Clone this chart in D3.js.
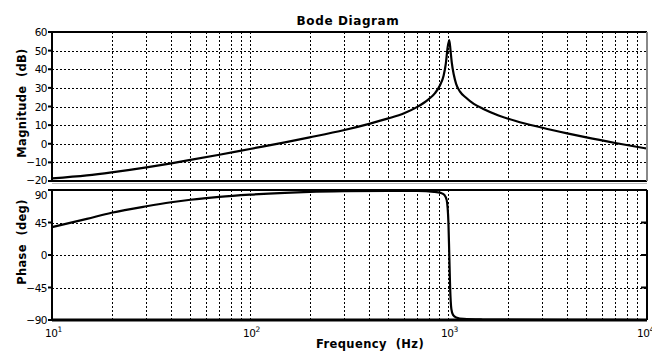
<!DOCTYPE html>
<html>
<head>
<meta charset="utf-8">
<script src="https://cdn.jsdelivr.net/npm/d3@7"></script>
<style>
  body { margin: 0; background: #fff; }
  text { font-family: "DejaVu Sans", sans-serif; fill: #000; }
  .grid { stroke: #000; stroke-width: 1; stroke-dasharray: 2,2; shape-rendering: crispEdges; }
</style>
</head>
<body>
<svg id="chartSVG" width="652" height="351"></svg>
<script>
// values
var magFreq = [10, 15, 20, 30, 40, 50, 70, 100, 150, 200, 300, 400, 500, 600, 700, 800, 860, 910, 950, 975, 995, 1015,
  1030, 1045, 1070, 1100, 1150, 1230, 1350, 1500, 1800, 2200, 3000, 4000, 5000, 7000, 10000];
var magDb = [-18.6, -17.0, -15.4, -12.7, -10.5, -8.7, -5.9, -2.8, 0.7, 3.4, 7.4, 10.7, 13.6, 16.4, 19.8, 24.0, 27.2, 31.3, 36.5, 43.0, 51.5, 55.7,
  50.0, 43.5, 37.0, 32.0, 28.0, 24.8, 21.4, 18.8, 15.2, 12.2, 8.6, 5.6, 3.4, 0.4, -2.5];

var phFreq = [10, 15, 20, 30, 40, 50, 70, 100, 150, 200, 300, 500, 700, 850, 920, 960, 985, 1005, 1015, 1025, 1040,
  1060, 1100, 1200, 1500, 2000, 5000, 10000];
var phDeg = [38.5, 50, 58.5, 67.5, 73, 76.5, 80.5, 83.5, 86, 87.3, 88.3, 88.8, 88.6, 87.5, 86, 83, 76, 45, 0, -45, -75,
  -83, -86.5, -88.5, -89.3, -89.6, -89.8, -90];

var magTicks = [-20, -10, 0, 10, 20, 30, 40, 50, 60];
var phTicks = [-90, -45, 0, 45, 90];
var decades = [1, 2, 3, 4];

var svg = d3.select("#chartSVG");
var left = 52, right = 646;

var x = d3.scaleLog().domain([10, 10000]).range([left, right]);
var yMag = d3.scaleLinear().domain([-20, 60]).range([181, 32]);
var yPh = d3.scaleLinear().domain([-90, 90]).range([320, 190]);

// minor + major frequency grid positions
var gridFreq = [];
for (var d = 1; d < 4; d++) {
  for (var k = 1; k < 10; k++) gridFreq.push(k * Math.pow(10, d));
}
gridFreq = gridFreq.filter(function(f) { return f > 10; });

function drawPanel(y, ticks, freq, vals, rightGray, labelShift) {
  var g = svg.append("g");
  var y0 = y.range()[0], y1 = y.range()[1];

  g.selectAll(".vgrid")
      .data(gridFreq)
      .enter().append("line")
      .attr("class", "grid")
      .attr("x1", function(f) { return Math.round(x(f)) + 0.5; })
      .attr("x2", function(f) { return Math.round(x(f)) + 0.5; })
      .attr("y1", y1)
      .attr("y2", y0);

  g.selectAll(".hgrid")
      .data(ticks.slice(1, -1))
      .enter().append("line")
      .attr("class", "grid")
      .attr("x1", left)
      .attr("x2", right)
      .attr("y1", function(v) { return Math.round(y(v)) + 0.5; })
      .attr("y2", function(v) { return Math.round(y(v)) + 0.5; });

  // left ticks + labels
  g.selectAll(".tk")
      .data(ticks)
      .enter().append("line")
      .attr("x1", left - 4)
      .attr("x2", left)
      .attr("y1", function(v) { return y(v); })
      .attr("y2", function(v) { return y(v); })
      .attr("stroke", "#000")
      .attr("stroke-width", 2);

  g.selectAll(".lbl")
      .data(ticks)
      .enter().append("text")
      .attr("x", left - 5)
      .attr("y", function(v, i) { return y(v) + 4 + (labelShift[i] || 0); })
      .attr("text-anchor", "end")
      .style("font-size", "10.5px")
      .style("letter-spacing", "-0.5px")
      .text(function(v) { return v < 0 ? "\u2212" + Math.abs(v) : v; });

  var line = d3.line()
      .curve(d3.curveMonotoneX)
      .x(function(d) { return x(d[0]); })
      .y(function(d) { return y(d[1]); });

  g.append("path")
      .attr("d", line(d3.zip(freq, vals)))
      .attr("fill", "none")
      .attr("stroke", "#000")
      .attr("stroke-width", 2.2);

  // frame
  g.append("line").attr("x1", left).attr("x2", right + 1).attr("y1", y1).attr("y2", y1)
      .attr("stroke", "#000").attr("stroke-width", 2);
  g.append("line").attr("x1", left).attr("x2", right + 1).attr("y1", y0).attr("y2", y0)
      .attr("stroke", "#000").attr("stroke-width", rightGray ? 2 : 3);
  g.append("line").attr("x1", left).attr("x2", left).attr("y1", y1 - 1).attr("y2", y0 + 1)
      .attr("stroke", "#000").attr("stroke-width", 2);
  g.append("line").attr("x1", right + 1).attr("x2", right + 1).attr("y1", y1).attr("y2", y0)
      .attr("stroke", rightGray ? "#888" : "#000").attr("stroke-width", 2);

  if (!rightGray) {
    g.selectAll(".rtk")
        .data(ticks.slice(1, -1))
        .enter().append("line")
        .attr("x1", right - 5)
        .attr("x2", right + 1)
        .attr("y1", function(v) { return y(v); })
        .attr("y2", function(v) { return y(v); })
        .attr("stroke", "#000")
        .attr("stroke-width", 2);
  }
  return g;
}

drawPanel(yMag, magTicks, magFreq, magDb, true, [-1.5, 0, 0, 0, 0, 0, 0, 0, 0]);
svg.append("line").attr("x1", left).attr("x2", right + 1).attr("y1", 183.5).attr("y2", 183.5)
    .attr("stroke", "#bbb").attr("stroke-width", 1);
drawPanel(yPh, phTicks, phFreq, phDeg, false, [0, 0, 0, 0, 4.5]);

// x tick labels 10^n
var xl = svg.selectAll(".xl")
    .data(decades)
    .enter().append("text")
    .attr("x", function(d) { return x(Math.pow(10, d)) - (d === 4 ? 9 : 7); })
    .attr("y", 337)
    .style("font-size", "10.5px")
    .style("letter-spacing", "-0.5px");
xl.append("tspan").text("10");
xl.append("tspan")
    .attr("dy", -5)
    .style("font-size", "7.5px")
    .text(function(d) { return d; });

svg.append("text")
    .attr("x", 348)
    .attr("y", 25)
    .attr("text-anchor", "middle")
    .style("font-size", "12px")
    .style("font-weight", "bold")
    .style("letter-spacing", "0.6px")
    .text("Bode Diagram");

svg.append("text")
    .attr("x", 370)
    .attr("y", 348)
    .attr("text-anchor", "middle")
    .style("font-size", "11.5px")
    .style("font-weight", "bold")
    .style("letter-spacing", "0.4px")
    .style("white-space", "pre")
    .text("Frequency  (Hz)");

svg.append("text")
    .attr("transform", "translate(26,103) rotate(-90)")
    .attr("text-anchor", "middle")
    .style("font-size", "11.5px")
    .style("font-weight", "bold")
    .style("letter-spacing", "0.3px")
    .style("white-space", "pre")
    .text("Magnitude  (dB)");

svg.append("text")
    .attr("transform", "translate(26,242) rotate(-90)")
    .attr("text-anchor", "middle")
    .style("font-size", "11.5px")
    .style("font-weight", "bold")
    .style("letter-spacing", "0.3px")
    .style("white-space", "pre")
    .text("Phase  (deg)");
</script>
</body>
</html>
